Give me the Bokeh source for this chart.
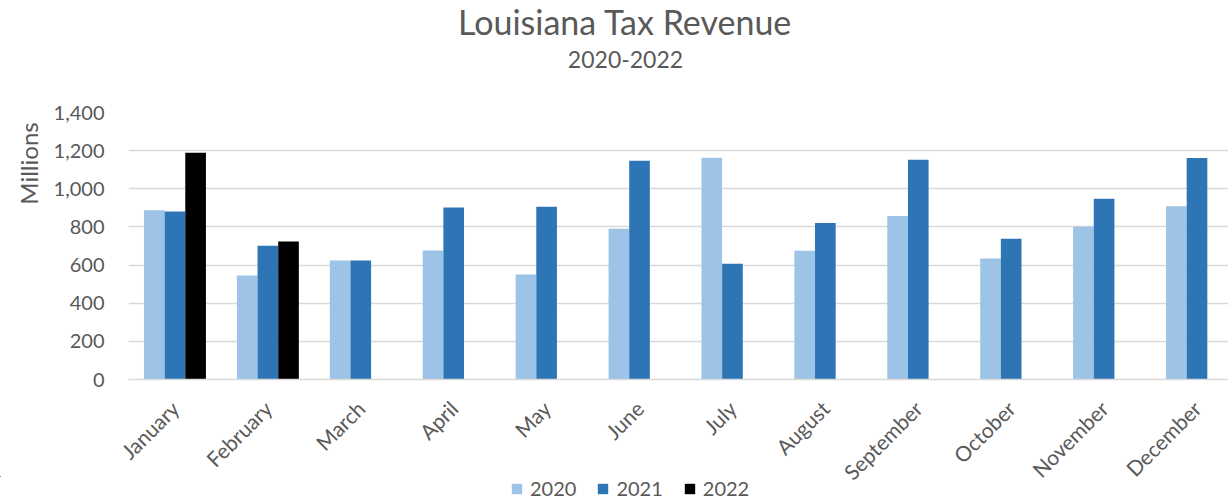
import math
from bokeh.plotting import figure
from bokeh.layouts import column, row
from bokeh.models import (ColumnDataSource, Range1d, FixedTicker, NumeralTickFormatter,
                          Legend, LegendItem, Label)
from bokeh.transform import dodge
from bokeh.embed import file_html
from bokeh.resources import INLINE

months = ["January", "February", "March", "April", "May", "June", "July",
          "August", "September", "October", "November", "December"]
rev_2020 = [887, 545, 624, 677, 551, 790, 1163, 675, 857, 635, 801, 909]
rev_2021 = [881, 701, 624, 902, 906, 1147, 607, 820, 1152, 738, 948, 1161]
rev_2022 = [1189, 724]
years = ["2020", "2021", "2022"]
y_ticks = [0, 200, 400, 600, 800, 1000, 1200, 1400]

FONT = "Lato"
TXT = "#595959"
COLORS = ["#9DC3E6", "#2E75B6", "#000000"]
BAR_W = 1 / 4.5

W, H = 1228, 496
TITLE_H, LEG_H, LEFT_W = 80, 20, 50
MAIN_H = H - TITLE_H
FRAME_TOP, FRAME_BOTTOM = 112, 379


def blank(width, height):
    f = figure(width=width, height=height, output_backend="svg", toolbar_location=None,
               x_range=Range1d(0, 1), y_range=Range1d(0, 1), min_border=0,
               x_axis_location=None, y_axis_location=None)
    f.outline_line_color = None
    for g in f.grid:
        g.visible = False
    return f


# ---- title strip
tf = blank(W, TITLE_H)
tf.add_layout(Label(x=629, y=TITLE_H - 21, x_units="screen", y_units="screen",
                    text="Louisiana  Tax Revenue", text_align="center",
                    text_baseline="alphabetic", text_font=FONT, text_font_size="34px",
                    text_color=TXT))
tf.add_layout(Label(x=625, y=TITLE_H - 59, x_units="screen", y_units="screen",
                    text="2020-2022", text_align="center",
                    text_baseline="alphabetic", text_font=FONT, text_font_size="23px",
                    text_color=TXT))

# ---- y-axis title strip (its frame lines up with the main frame)
mf = blank(LEFT_W, MAIN_H)
mf.add_layout(Label(x=28, y=FRAME_BOTTOM - 163, x_units="screen", y_units="screen",
                    text="Millions", text_align="center", text_baseline="middle",
                    angle=math.pi / 2, text_font=FONT, text_font_size="24px",
                    text_color=TXT))

# ---- main chart
idx = list(range(len(months)))
src = ColumnDataSource(dict(x=idx, m=months, v20=rev_2020, v21=rev_2021))
src22 = ColumnDataSource(dict(x=idx[:len(rev_2022)], v22=rev_2022))

p = figure(width=W - LEFT_W, height=MAIN_H, output_backend="svg", toolbar_location=None,
           x_range=Range1d(-0.5, 11.339), y_range=Range1d(0, 1400),
           min_border_left=128 - LEFT_W, min_border_right=0,
           min_border_top=FRAME_TOP - TITLE_H,
           min_border_bottom=MAIN_H - (FRAME_BOTTOM - TITLE_H))
p.outline_line_color = None

p.vbar(x=dodge("x", -BAR_W, range=p.x_range), top="v20", width=BAR_W, source=src,
       fill_color=COLORS[0], line_color=None)
p.vbar(x=dodge("x", 0, range=p.x_range), top="v21", width=BAR_W, source=src,
       fill_color=COLORS[1], line_color=None)
p.vbar(x=dodge("x", BAR_W, range=p.x_range), top="v22", width=BAR_W, source=src22,
       fill_color=COLORS[2], line_color=None)

p.xgrid.grid_line_color = None
p.ygrid.grid_line_color = "#D9D9D9"
p.ygrid.grid_line_width = 1.3
p.ygrid.ticker = FixedTicker(ticks=y_ticks)

p.yaxis.ticker = FixedTicker(ticks=y_ticks)
p.yaxis.formatter = NumeralTickFormatter(format="0,0")
p.yaxis.axis_line_color = None
p.yaxis.major_tick_line_color = None
p.yaxis.minor_tick_line_color = None
p.yaxis.major_tick_out = 0
p.yaxis.major_tick_in = 0
p.yaxis.major_label_standoff = 24
p.yaxis.major_label_text_font = FONT
p.yaxis.major_label_text_font_size = "20px"
p.yaxis.major_label_text_color = TXT

p.xaxis.ticker = FixedTicker(ticks=idx)
p.xaxis.major_label_overrides = {i: m for i, m in zip(idx, months)}
p.xaxis.major_label_orientation = math.pi / 4
p.xaxis.axis_line_color = "#D9D9D9"
p.xaxis.axis_line_width = 1.3
p.xaxis.major_tick_line_color = None
p.xaxis.minor_tick_line_color = None
p.xaxis.major_tick_out = 0
p.xaxis.major_tick_in = 0
p.xaxis.major_label_standoff = 25
p.xaxis.major_label_text_font = FONT
p.xaxis.major_label_text_font_size = "21px"
p.xaxis.major_label_text_color = TXT

# ---- legend strip (transparent, pulled up over the bottom border of the chart)
# its ranges keep the series glyphs out of view, so only the legend shows
lf = figure(width=W, height=LEG_H, output_backend="svg", toolbar_location=None,
            x_range=Range1d(100, 101), y_range=Range1d(-20000, -10000), min_border=0,
            x_axis_location=None, y_axis_location=None, margin=(-LEG_H, 0, 0, 0))
lf.outline_line_color = None
lf.background_fill_alpha = 0
lf.border_fill_alpha = 0
for g in lf.grid:
    g.visible = False
r20 = lf.vbar(x="x", top="v20", width=0.1, source=src, fill_color=COLORS[0], line_color=None)
r21 = lf.vbar(x="x", top="v21", width=0.1, source=src, fill_color=COLORS[1], line_color=None)
r22 = lf.vbar(x="x", top="v22", width=0.1, source=src22, fill_color=COLORS[2], line_color=None)
items = [LegendItem(label=yr, renderers=[r]) for yr, r in zip(years, [r20, r21, r22])]
legend = Legend(items=items, orientation="horizontal", location=(510, LEG_H - 24),
                padding=0, margin=0, spacing=20, label_standoff=7,
                glyph_width=13, glyph_height=13,
                label_text_font=FONT, label_text_font_size="20px",
                label_text_color=TXT, border_line_color=None,
                background_fill_alpha=0)
lf.add_layout(legend)

layout = column(tf, row(mf, p, spacing=0), lf, spacing=0)
open("out.html", "w").write(file_html(layout, INLINE))
